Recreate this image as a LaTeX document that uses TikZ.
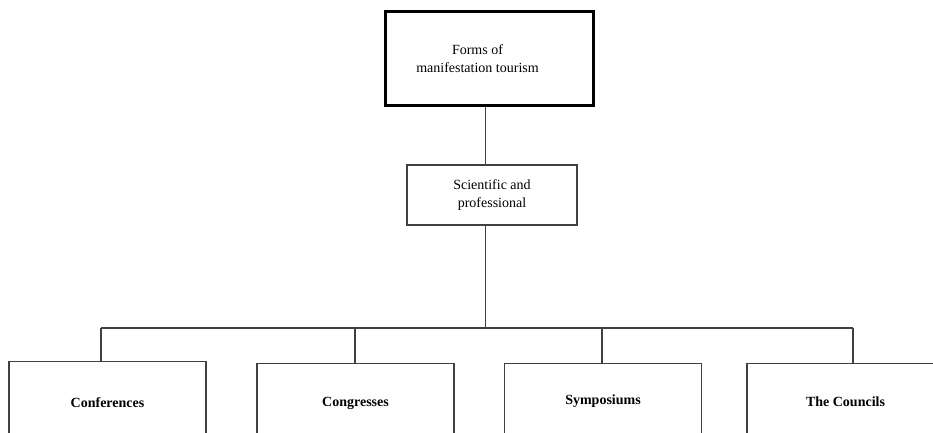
\documentclass[tikz,border=0pt]{standalone}
\usepackage{fontspec}
\setmainfont{Liberation Serif}
\begin{document}
\begin{tikzpicture}[x=1pt,y=-1pt,
  conn/.style={draw=black!75, line width=1.2pt},
  boxthin/.style={draw=black!75, line width=1.2pt, rectangle, inner sep=0pt, align=center,
     font=\fontsize{14}{18}\selectfont},
  leaf/.style={boxthin, minimum width=197pt, font=\fontsize{14}{18}\selectfont\bfseries}]
\useasboundingbox (0,0) rectangle (933,432);
\clip (0,0) rectangle (933,432);
\node[draw=black, line width=3.5pt, rectangle, minimum width=208pt, minimum height=94pt,
  label={[xshift=-12pt,align=center,font=\fontsize{14}{18}\selectfont]center:Forms of\\manifestation tourism}]
  (top) at (489.5,58.5) {};
\node[boxthin, minimum width=170pt, minimum height=60pt] (sci) at (492,195) {Scientific and\\professional};
\node[leaf, anchor=north, minimum height=82pt] (b1) at (107.5,361) {Conferences};
\node[leaf, anchor=north, minimum height=80pt] (b2) at (355.5,363) {Congresses};
\node[leaf, anchor=north, minimum height=75pt] (b3) at (603,363) {Symposiums};
\node[leaf, anchor=north, minimum height=77pt] (b4) at (845.5,363) {The Councils};
\coordinate (bus) at (485.5,328);
\coordinate (d1) at (101,328);
\coordinate (d2) at (355,328);
\coordinate (d3) at (602,328);
\coordinate (d4) at (853,328);
\draw[conn] (bus |- top.south) -- (bus |- sci.north);
\draw[conn] (bus |- sci.south) -- (bus);
\draw[conn] (d1) -- (d4);
\draw[conn] (d1) -- (d1 |- b1.north);
\draw[conn] (d2) -- (d2 |- b2.north);
\draw[conn] (d3) -- (d3 |- b3.north);
\draw[conn] (d4) -- (d4 |- b4.north);
\end{tikzpicture}
\end{document}
